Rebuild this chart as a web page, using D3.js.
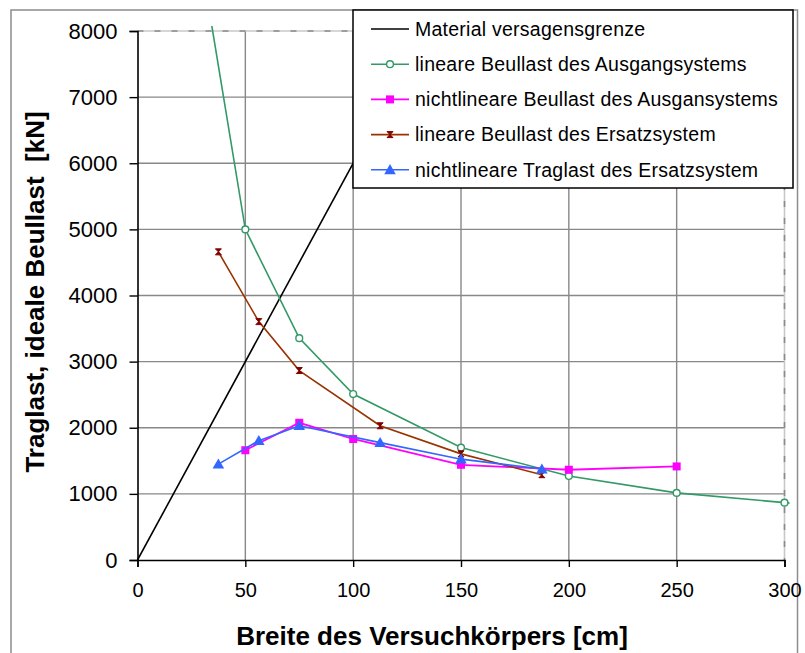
<!DOCTYPE html>
<html>
<head>
<meta charset="utf-8">
<script src="https://cdn.jsdelivr.net/npm/d3@7"></script>
<style>
  body { margin: 0; background: #fff; }
  svg text { font-family: "Liberation Sans", Arial, sans-serif; }
</style>
</head>
<body>
<div id="chart"></div>
<script>
// Achsen
const xTicks = [0, 50, 100, 150, 200, 250, 300]
const yTicks = [0, 1000, 2000, 3000, 4000, 5000, 6000, 7000, 8000]

// Material versagensgrenze
const materialX = [0, 150]
const materialY = [0, 9000]

// lineare Beullast des Ausgangsystems
const linAusX = [25, 50, 75, 100, 150, 200, 250, 300, 350]
const linAusY = [9950, 5000, 3355, 2510, 1700, 1270, 1015, 867, 735]

// nichtlineare Beullast des Ausgansystems
const nlAusX = [50, 75, 100, 150, 200, 250]
const nlAusY = [1660, 2075, 1830, 1440, 1365, 1415]

// lineare Beullast des Ersatzsystem
const linErsX = [37.5, 56.25, 75, 112.5, 150, 187.5]
const linErsY = [4660, 3605, 2865, 2030, 1605, 1290]

// nichtlineare Traglast des Ersatzsystem
const nlErsX = [37.5, 56.25, 75, 112.5, 150, 187.5]
const nlErsY = [1450, 1805, 2030, 1775, 1525, 1375]

const legendLabels = [
  'Material versagensgrenze',
  'lineare Beullast des Ausgangsystems',
  'nichtlineare Beullast des Ausgansystems',
  'lineare Beullast des Ersatzsystem',
  'nichtlineare Traglast des Ersatzsystem'
]

const W = 805, H = 653
const plot = { left: 137.5, right: 784.5, top: 31, bottom: 560 }

const svg = d3.select('#chart').append('svg')
  .attr('width', W).attr('height', H)

const x = d3.scaleLinear().domain([0, 300]).range([plot.left, plot.right])
const y = d3.scaleLinear().domain([0, 8000]).range([plot.bottom, plot.top])

// Rahmen
svg.append('rect')
  .attr('x', 11).attr('y', 10).attr('width', 786.5).attr('height', 660)
  .attr('fill', 'none').attr('stroke', '#8c8c8c').attr('stroke-width', 1.5)

// Gitter
const grid = svg.append('g')
grid.selectAll('line.h').data(yTicks.slice(1, -1)).join('line')
  .attr('x1', plot.left).attr('x2', plot.right)
  .attr('y1', d => y(d)).attr('y2', d => y(d))
  .attr('stroke', '#888').attr('stroke-width', 1.4)
grid.selectAll('line.v').data(xTicks.slice(1, -1)).join('line')
  .attr('x1', d => x(d)).attr('x2', d => x(d))
  .attr('y1', plot.top).attr('y2', plot.bottom)
  .attr('stroke', '#888').attr('stroke-width', 1.4)

// gestrichelte Ränder oben / rechts
const edge = [[plot.left, plot.top, plot.right, plot.top], [plot.right, plot.top, plot.right, plot.bottom]]
edge.forEach(e => {
  grid.append('line').attr('x1', e[0]).attr('y1', e[1]).attr('x2', e[2]).attr('y2', e[3])
    .attr('stroke', '#c8c8c8').attr('stroke-width', 1.6)
  grid.append('line').attr('x1', e[0]).attr('y1', e[1]).attr('x2', e[2]).attr('y2', e[3])
    .attr('stroke', '#8a8a8a').attr('stroke-width', 1.6).attr('stroke-dasharray', '6,11')
})

// Achsen
const xAxis = svg.append('g')
  .attr('transform', `translate(0,${plot.bottom})`)
  .call(d3.axisBottom(x).tickValues(xTicks).tickSize(7).tickPadding(16))
const yAxis = svg.append('g')
  .attr('transform', `translate(${plot.left},0)`)
  .call(d3.axisLeft(y).tickValues(yTicks).tickSize(8).tickPadding(12).tickFormat(d3.format('d')))
;[xAxis, yAxis].forEach(a => {
  a.select('.domain').attr('stroke', '#000').attr('stroke-width', 1.6)
  a.selectAll('.tick line').attr('stroke', '#000').attr('stroke-width', 1.4)
  a.selectAll('.tick text').attr('fill', '#000')
    .style('font-family', '"Liberation Sans", Arial, sans-serif')
})
xAxis.selectAll('.tick text').style('font-size', '20px')
yAxis.selectAll('.tick text').style('font-size', '22px')

// Kurven
const clip = svg.append('clipPath').attr('id', 'plotclip').append('rect')
  .attr('x', plot.left - 5).attr('y', plot.top - 5)
  .attr('width', plot.right - plot.left + 10).attr('height', plot.bottom - plot.top + 5)

const series = [
  { xs: materialX, ys: materialY, color: '#000000', mark: null },
  { xs: linAusX, ys: linAusY, color: '#339966', mark: 'circle' },
  { xs: nlAusX, ys: nlAusY, color: '#FF00FF', mark: 'square' },
  { xs: linErsX, ys: linErsY, color: '#993300', mark: 'hourglass' },
  { xs: nlErsX, ys: nlErsY, color: '#3366FF', mark: 'triangle' }
]

const line = d3.line().x(d => x(d[0])).y(d => y(d[1]))

function drawMarker(g, type, cx, cy, color) {
  if (type === 'circle') {
    g.append('circle').attr('cx', cx).attr('cy', cy).attr('r', 3.4)
      .attr('fill', '#fff').attr('stroke', color).attr('stroke-width', 1.4)
  } else if (type === 'square') {
    g.append('rect').attr('x', cx - 4).attr('y', cy - 4).attr('width', 8).attr('height', 8)
      .attr('fill', color)
  } else if (type === 'hourglass') {
    g.append('path').attr('d', `M${cx - 3},${cy - 3}L${cx + 3},${cy - 3}L${cx - 3},${cy + 3}L${cx + 3},${cy + 3}Z`)
      .attr('fill', '#800000').attr('stroke', '#800000').attr('stroke-width', 1)
  } else if (type === 'triangle') {
    g.append('path').attr('d', d3.symbol(d3.symbolTriangle, 58)())
      .attr('transform', `translate(${cx},${cy + 1})`)
      .attr('fill', color)
  }
}

const curves = svg.append('g').attr('clip-path', 'url(#plotclip)')
series.forEach(s => {
  const pts = s.xs.map((v, i) => [v, s.ys[i]])
  const g = curves.append('g')
  g.append('path').attr('d', line(pts))
    .attr('fill', 'none').attr('stroke', s.color).attr('stroke-width', s.mark === 'square' ? 1.8 : 1.6)
  if (s.mark) {
    pts.filter(p => p[0] <= 300 && p[1] <= 8000)
      .forEach(p => drawMarker(g, s.mark, x(p[0]), y(p[1]), s.color))
  }
})

// Legende
const lg = svg.append('g')
lg.append('rect').attr('x', 353).attr('y', 10).attr('width', 440).attr('height', 178)
  .attr('fill', '#fff').attr('stroke', '#000').attr('stroke-width', 1.5)
series.forEach((s, i) => {
  const ly = 29 + i * 35.2
  lg.append('line').attr('x1', 371).attr('x2', 409).attr('y1', ly).attr('y2', ly)
    .attr('stroke', s.color).attr('stroke-width', 1.6)
  if (s.mark) drawMarker(lg, s.mark, 390, ly, s.color)
  lg.append('text').attr('x', 415).attr('y', ly).attr('dy', '0.35em')
    .style('font-size', '19.5px').style('letter-spacing', '0.25px')
    .attr('fill', '#000').text(legendLabels[i])
})

// Achsentitel
svg.append('text').attr('x', 432).attr('y', 645)
  .attr('text-anchor', 'middle').style('font-size', '26px').style('font-weight', 'bold')
  .text('Breite des Versuchkörpers [cm]')
svg.append('text')
  .attr('transform', 'translate(44,292) rotate(-90)')
  .attr('text-anchor', 'middle').style('font-size', '26px').style('font-weight', 'bold')
  .style('white-space', 'pre')
  .text('Traglast, ideale Beullast  [kN]')
</script>
</body>
</html>
